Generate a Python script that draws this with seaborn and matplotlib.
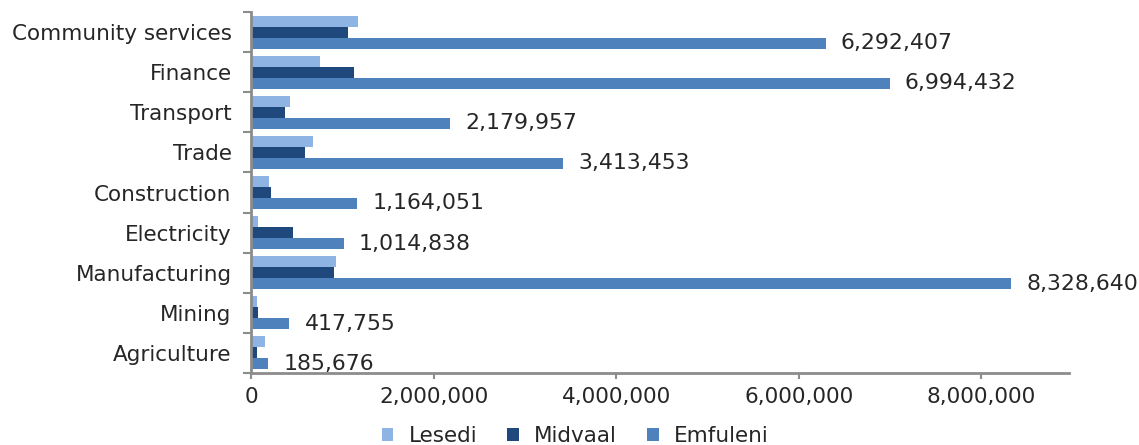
import matplotlib
matplotlib.use("Agg")
import matplotlib.pyplot as plt
import matplotlib.ticker as mticker
import seaborn as sns
import pandas as pd
import numpy as np

categories = ["Community services", "Finance", "Transport", "Trade", "Construction",
              "Electricity", "Manufacturing", "Mining", "Agriculture"]
lesedi = [1170000, 760000, 430000, 680000, 200000, 80000, 930000, 70000, 150000]
midvaal = [1060000, 1130000, 370000, 590000, 220000, 460000, 910000, 80000, 60000]
emfuleni = [6292407, 6994432, 2179957, 3413453, 1164051, 1014838, 8328640, 417755, 185676]
series = ["Lesedi", "Midvaal", "Emfuleni"]
colors = ["#8EB4E3", "#1F497D", "#4F81BD"]
xticks = [0, 2000000, 4000000, 6000000, 8000000]

sns.set_theme(style="white")
plt.rcParams["font.family"] = ["DejaVu Sans"]
text_color = "#262626"

rows = []
for s, vals in zip(series, [lesedi, midvaal, emfuleni]):
    for c, v in zip(categories, vals):
        rows.append({"Sector": c, "Municipality": s, "Value": v})
df = pd.DataFrame(rows)

fig = plt.figure(figsize=(11.39, 4.45), dpi=100)
ax = fig.add_axes([0.2204, 0.1618, 0.7182, 0.8112])

sns.barplot(data=df, y="Sector", x="Value", hue="Municipality", order=categories,
            hue_order=series, palette=colors, orient="h", width=0.82,
            linewidth=0, saturation=1, ax=ax, legend=True)

ax.bar_label(ax.containers[2], labels=[f"{v:,}" for v in emfuleni], padding=11,
             fontsize=15.8, color=text_color)

ax.set_xlim(0, 8960000)
ax.set_ylim(len(categories) - 0.5, -0.5)
ax.set_xticks(xticks)
ax.xaxis.set_major_formatter(mticker.FuncFormatter(lambda x, p: f"{int(x):,}"))
ax.set_xlabel("")
ax.set_ylabel("")

ax.set_yticks(np.arange(-0.5, len(categories), 1.0), minor=True)
ax.tick_params(axis="y", which="major", length=0, pad=14, labelsize=15.5, labelcolor=text_color)
ax.tick_params(axis="y", which="minor", left=True, length=6, width=1.5, color="#8c8c8c")
ax.tick_params(axis="x", which="major", bottom=True, length=4, width=1.5, color="#8c8c8c",
               pad=6, labelsize=15.5, labelcolor=text_color)

for side in ["top", "right"]:
    ax.spines[side].set_visible(False)
for side in ["left", "bottom"]:
    ax.spines[side].set_color("#8c8c8c")
    ax.spines[side].set_linewidth(2)

handles, labels = ax.get_legend_handles_labels()
ax.get_legend().remove()
fig.legend(handles, labels, loc="lower center", bbox_to_anchor=(0.505, -0.045), ncol=3,
           frameon=False, handlelength=0.55, handleheight=0.55, handletextpad=0.7,
           columnspacing=1.4, fontsize=15.5, labelcolor=text_color)

fig.savefig("out.png", dpi=100)
